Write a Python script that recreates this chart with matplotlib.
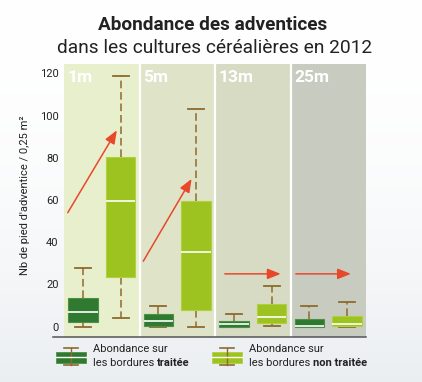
import matplotlib
matplotlib.use('Agg')
import matplotlib.pyplot as plt
import numpy as np
from matplotlib.lines import Line2D
from matplotlib.patches import Rectangle

# ---------------- data ----------------
panels = ['1m', '5m', '13m', '25m']
# bordures traitées (dark green)
t_low = [0.0, 0.0, 0.0, 0.0]
t_q1 = [2.2, 0.3, 0.0, 0.0]
t_med = [6.8, 2.6, 1.3, 0.4]
t_q3 = [13.6, 5.9, 2.9, 3.6]
t_high = [27.9, 9.6, 5.9, 9.6]
# bordures non traitées (light green)
u_low = [4.0, 0.0, 0.3, 0.0]
u_q1 = [23.7, 7.9, 1.9, 0.2]
u_med = [59.4, 35.2, 4.6, 1.2]
u_q3 = [80.5, 59.5, 10.7, 4.9]
u_high = [118.7, 103.2, 19.4, 11.9]
yticks = [0, 20, 40, 60, 80, 100, 120]
# trend arrows (x offset within panel, y value)
arrow_start_x = [0.05, 0.05, 0.13, 0.07]
arrow_start_y = [54, 31, 25, 25]
arrow_end_x = [0.70, 0.69, 0.87, 0.80]
arrow_end_y = [93, 70, 25, 25]

title = "Abondance des adventices"
subtitle = "dans les cultures céréalières en 2012"
ylabel = "Nb de pied d'adventice / 0,25 m²"

# ---------------- style ----------------
plt.rcParams['font.family'] = ['Roboto', 'DejaVu Sans']
panel_colors = ['#e8efcc', '#dfe3c8', '#d7dbc3', '#c8cbc0']
dark = '#2f7a30'
dark_edge = '#4c9046'
light = '#9cc31f'
light_edge = '#b0d040'
brown = '#8e6a2c'
arrow_col = '#e8482a'

W, H = 422, 382
fig = plt.figure(figsize=(W / 100, H / 100), dpi=100)

# background gradient
bg = fig.add_axes([0, 0, 1, 1], zorder=-10)
grad = np.linspace(0, 1, 256)[:, None]
top = np.array([1.0, 1.0, 1.0])
bot = np.array([0.92, 0.935, 0.945])
img = top[None, None, :] * (1 - grad[..., None] ** 2) + bot[None, None, :] * grad[..., None] ** 2
bg.imshow(img, aspect='auto', extent=[0, 1, 0, 1])
bg.axis('off')

left, right, bottom, topp = 64, 366, 337, 64
ax = fig.add_axes([left / W, 1 - bottom / H, (right - left) / W, (bottom - topp) / H])
ax.set_xlim(0, len(panels))
ax.set_ylim(-4.9, 124.4)
for s in ax.spines.values():
    s.set_visible(False)

for i, c in enumerate(panel_colors):
    ax.axvspan(i, i + 1, color=c, zorder=0, lw=0)
    if i > 0:
        ax.axvline(i, color='white', lw=1.6, zorder=1)
    ax.text(i + 0.05, 121.5, panels[i], color='white', fontsize=12.5,
            fontweight='bold', ha='left', va='top', zorder=5)

def stats(lo, q1, med, q3, hi):
    return [dict(whislo=a, q1=b, med=c, q3=d, whishi=e, fliers=[])
            for a, b, c, d, e in zip(lo, q1, med, q3, hi)]

common = dict(widths=0.39, patch_artist=True, showfliers=False, capwidths=0.21,
              medianprops=dict(color='white', lw=1.2, zorder=4),
              whiskerprops=dict(color=brown, lw=1.1, linestyle=(0, (5, 2.5)), zorder=2),
              capprops=dict(color=brown, lw=1.3, zorder=2))
ax.bxp(stats(t_low, t_q1, t_med, t_q3, t_high),
       positions=np.arange(len(panels)) + 0.25,
       boxprops=dict(facecolor=dark, edgecolor=dark_edge, lw=0.8, zorder=3), **common)
ax.bxp(stats(u_low, u_q1, u_med, u_q3, u_high),
       positions=np.arange(len(panels)) + 0.75,
       boxprops=dict(facecolor=light, edgecolor=light_edge, lw=0.8, zorder=3), **common)

for i in range(len(panels)):
    ax.annotate('', xy=(i + arrow_end_x[i], arrow_end_y[i]),
                xytext=(i + arrow_start_x[i], arrow_start_y[i]),
                arrowprops=dict(arrowstyle='-|>,head_length=0.8,head_width=0.32',
                                color=arrow_col, lw=1.1, shrinkA=0, shrinkB=0),
                zorder=6)

ax.set_xticks([])
ax.set_yticks(yticks)
ax.set_yticklabels([str(v) for v in yticks], fontsize=8, color='#222222')
ax.tick_params(axis='y', length=0, pad=4)
ax.set_ylabel(ylabel, fontsize=8, color='#222222')
ax.yaxis.set_label_coords((30 - left) / (right - left), (bottom - 195) / (bottom - topp))

# bottom axis line
fig.add_artist(Line2D([53 / W, 366 / W], [1 - 337 / H, 1 - 337 / H],
                      color='#555555', lw=1.1, transform=fig.transFigure))

# titles
fig.text(213 / W, 1 - 25 / H, title, fontsize=13.7, fontweight='bold',
         ha='center', va='center', color='#222222')
fig.text(215 / W, 1 - 48 / H, subtitle, fontsize=13.8, ha='center',
         va='center', color='#222222')

# legend
lg = fig.add_axes([0, 0, 1, 1], zorder=5)
lg.set_xlim(0, W)
lg.set_ylim(H, 0)
lg.axis('off')
for x0, col, edge, bold in [(56, dark, dark_edge, 'traitée'), (212, light, light_edge, 'non traitée')]:
    lg.plot([x0 + 8, x0 + 22], [348, 348], color=brown, lw=1.2)
    lg.plot([x0 + 8, x0 + 22], [365, 365], color=brown, lw=1.2)
    lg.plot([x0 + 15, x0 + 15], [348, 365], color=brown, lw=1.0)
    lg.add_patch(Rectangle((x0, 351.5), 30, 11, facecolor=col, edgecolor=edge, lw=0.6))
    lg.plot([x0, x0 + 30], [357, 357], color='white', lw=1.0)
    tx = x0 + 37
    lg.text(tx, 349.5, "Abondance sur", fontsize=8, va='center', ha='left', color='#222222')
    t = lg.text(tx, 363.5, "les bordures ", fontsize=8, va='center', ha='left', color='#222222')
    fig.canvas.draw()
    bb = t.get_window_extent()
    inv = lg.transData.inverted()
    xe = inv.transform((bb.x1, bb.y0))[0]
    lg.text(xe, 363.5, bold, fontsize=8, fontweight='bold', va='center', ha='left', color='#222222')

fig.savefig('out.png', dpi=100)
